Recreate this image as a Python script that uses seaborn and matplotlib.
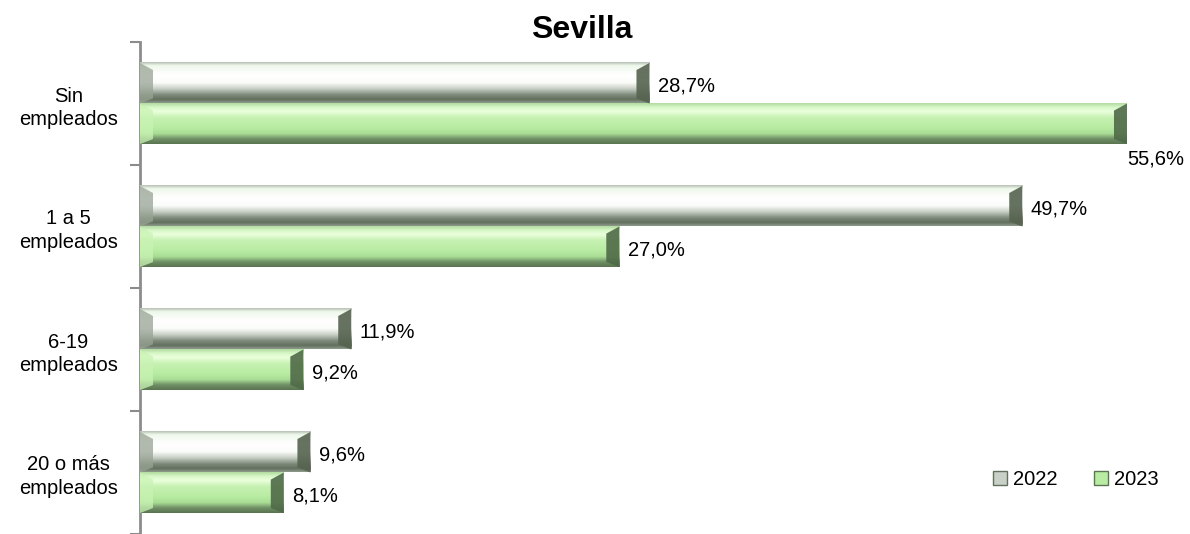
import matplotlib
matplotlib.use('Agg')
import matplotlib.pyplot as plt
import seaborn as sns
import numpy as np
import pandas as pd
from matplotlib.colors import LinearSegmentedColormap
from matplotlib.patches import Polygon, Patch

categorias = ['Sin\nempleados', '1 a 5\nempleados', '6-19\nempleados', '20 o más\nempleados']
anios = ['2022', '2023']
valores_2022 = [28.7, 49.7, 11.9, 9.6]
valores_2023 = [55.6, 27.0, 9.2, 8.1]

df = pd.DataFrame({
    'categoria': categorias * 2,
    'anio': [anios[0]] * 4 + [anios[1]] * 4,
    'valor': valores_2022 + valores_2023,
})

# degradados verticales (arriba -> abajo) imitando el bisel de Excel
grad_2022 = LinearSegmentedColormap.from_list('g22', [
    (0.0, '#b9c1b6'), (0.08, '#eef8ea'), (0.3, '#ffffff'), (0.5, '#fbfdfa'),
    (0.65, '#c9d0c7'), (0.8, '#7f8c7c'), (0.92, '#616f5e'), (1.0, '#8e9a8b')])
grad_2023 = LinearSegmentedColormap.from_list('g23', [
    (0.0, '#b3dca3'), (0.1, '#d8f7c8'), (0.2, '#eaffdd'), (0.35, '#c6f1b2'),
    (0.6, '#b9eca3'), (0.75, '#a9dc94'), (0.88, '#6f8f65'), (1.0, '#5b7552')])
gradientes = [grad_2022, grad_2023]
bisel_izq = ['#98a394', '#c9f3b4']
bisel_der = ['#56634f', '#4f6a48']

sns.set_style('white')
plt.rcParams['font.family'] = ['Liberation Sans', 'DejaVu Sans']
plt.rcParams['text.color'] = 'black'
plt.rcParams['ytick.labelcolor'] = 'black'

fig = plt.figure(figsize=(11.9, 5.34), dpi=100)
ax = fig.add_axes([140 / 1190, 0, 1050 / 1190, 492 / 534])

sns.barplot(data=df, y='categoria', x='valor', hue='anio', orient='h',
            width=0.66, palette=['#dddddd', '#b9eca3'], legend=False, ax=ax)

xmax = 59.15
px_x = xmax / 1050
gradiente = np.linspace(0, 1, 100).reshape(-1, 1)

for i, cont in enumerate(ax.containers):
    for bar in cont:
        x0, y0 = bar.get_x(), bar.get_y()
        w, h = bar.get_width(), bar.get_height()
        bar.set_alpha(0)
        px_y = h / 40
        ax.imshow(gradiente, cmap=gradientes[i], aspect='auto', origin='upper',
                  extent=(x0, x0 + w, y0 + h, y0), zorder=3, interpolation='bilinear')
        dx = 13 * px_x
        dyt, dyb = 7 * px_y, 5 * px_y
        ax.add_patch(Polygon([(x0, y0), (x0 + dx, y0 + dyt), (x0 + dx, y0 + h - dyb), (x0, y0 + h)],
                             closed=True, facecolor=bisel_izq[i], alpha=0.75, lw=0, zorder=4))
        x1 = x0 + w
        ax.add_patch(Polygon([(x1, y0), (x1 - dx, y0 + dyt), (x1 - dx, y0 + h - dyb), (x1, y0 + h)],
                             closed=True, facecolor=bisel_der[i], alpha=0.9, lw=0, zorder=4))
        etiqueta = f'{w:.1f}%'.replace('.', ',')
        if w > xmax * 0.9:
            ax.annotate(etiqueta, (x1, y0 + h), xytext=(0, -4), textcoords='offset points',
                        ha='left', va='top', fontsize=14.5, color='black')
        else:
            ax.annotate(etiqueta, (x1, y0 + h / 2), xytext=(6, -2), textcoords='offset points',
                        ha='left', va='center', fontsize=14.5, color='black')

ax.set_xlim(0, xmax)
ax.set_ylim(3.5, -0.5)
ax.set_xticks([])
ax.set_xlabel('')
ax.set_ylabel('')

ax.set_yticks([-0.5, 0.5, 1.5, 2.5, 3.5], labels=[''] * 5)
ax.set_yticks(range(4), labels=categorias, minor=True)
ax.tick_params(axis='y', which='major', left=True, length=7, width=1.5, color='#8c8c8c')
ax.tick_params(axis='y', which='minor', left=False, length=0, pad=16, labelsize=14.5,
               labelcolor='black')
for t in ax.get_yticklabels(minor=True):
    t.set_multialignment('center')
    t.set_linespacing(1.3)

for lado in ['top', 'right', 'bottom']:
    ax.spines[lado].set_visible(False)
ax.spines['left'].set_color('#8c8c8c')
ax.spines['left'].set_linewidth(2)

fig.text(0.489, 0.944, 'Sevilla', ha='center', va='center', fontsize=23,
         fontweight='bold', color='black')

handles = [Patch(facecolor='#c9d0c7', edgecolor='#616f5e', label=anios[0]),
           Patch(facecolor='#b9eca3', edgecolor='#5b7552', label=anios[1])]
ax.legend(handles=handles, loc='center left', bbox_to_anchor=(0.795, 0.11), ncol=2,
          frameon=False, fontsize=14.5, handlelength=0.7, handleheight=0.7,
          handletextpad=0.3, columnspacing=1.8, labelcolor='black')

fig.savefig('out.png', dpi=100)
